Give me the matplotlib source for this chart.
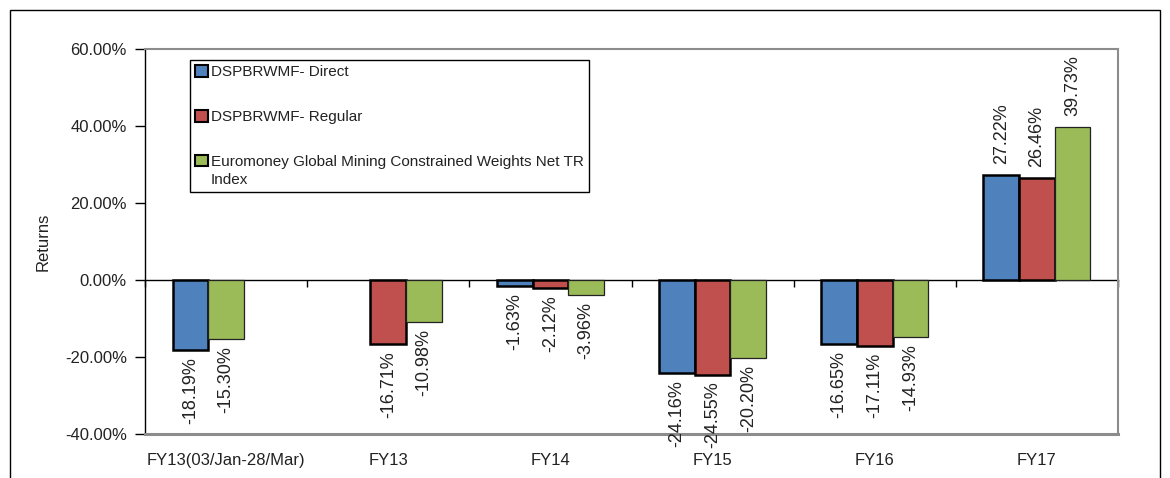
import matplotlib
matplotlib.use('Agg')
import matplotlib.pyplot as plt
from matplotlib.patches import Patch, Rectangle
from matplotlib.ticker import FuncFormatter
import numpy as np

plt.rcParams['font.family'] = ['Liberation Sans', 'DejaVu Sans']

# data (returns in %)
categories = ['FY13(03/Jan-28/Mar)', 'FY13', 'FY14', 'FY15', 'FY16', 'FY17']
direct = [-18.19, np.nan, -1.63, -24.16, -16.65, 27.22]
regular = [np.nan, -16.71, -2.12, -24.55, -17.11, 26.46]
index_ret = [-15.30, -10.98, -3.96, -20.20, -14.93, 39.73]
series_names = ['DSPBRWMF- Direct', 'DSPBRWMF- Regular',
                'Euromoney Global Mining Constrained Weights Net TR\nIndex']

colors = ['#4F81BD', '#C0504D', '#9BBB59']
txt = '#222222'

fig = plt.figure(figsize=(11.7, 4.78), dpi=100)
ax = fig.add_axes([145 / 1170, 1 - 434 / 478, 973 / 1170, 385 / 478])

x = np.arange(len(categories))
w = 0.22
# index bar moves into the empty middle slot when the regular plan has no value
index_slot = np.where(np.isnan(regular), 0, 1)

b1 = ax.bar(x - w, direct, w, color=colors[0], edgecolor='black', linewidth=1.8)
b2 = ax.bar(x, regular, w, color=colors[1], edgecolor='black', linewidth=1.8)
b3 = ax.bar(x + index_slot * w, index_ret, w, color=colors[2], edgecolor='#222222', linewidth=0.9)

for bars, vals in [(b1, direct), (b2, regular), (b3, index_ret)]:
    for rect, v in zip(bars, vals):
        if np.isnan(v):
            continue
        cx = rect.get_x() + rect.get_width() / 2
        if v < 0:
            ax.annotate('%.2f%%' % v, (cx, v), xytext=(0, -5), textcoords='offset points',
                        rotation=90, ha='center', va='top', fontsize=13, color=txt,
                        annotation_clip=False)
        else:
            ax.annotate('%.2f%%' % v, (cx, v), xytext=(0, 8), textcoords='offset points',
                        rotation=90, ha='center', va='bottom', fontsize=13, color=txt,
                        annotation_clip=False)

ax.set_xlim(-0.5, len(categories) - 0.5)
ax.set_ylim(-40, 60)
ax.set_yticks(np.arange(-40, 61, 20))
ax.yaxis.set_major_formatter(FuncFormatter(lambda v, p: '%.2f%%' % v))
ax.tick_params(axis='y', direction='out', length=7, width=1, labelsize=12, labelcolor=txt, pad=6)
ax.set_xticks(x)
ax.set_xticklabels(categories)
ax.tick_params(axis='x', length=0, labelsize=12, labelcolor=txt, pad=14)
ax.set_ylabel('Returns', fontsize=12, color=txt, labelpad=10)

ax.spines['left'].set_color('black')
ax.spines['left'].set_linewidth(1)
for s in ['top', 'right']:
    ax.spines[s].set_color('#8c8c8c')
    ax.spines[s].set_linewidth(1.5)
ax.spines['bottom'].set_color('#8c8c8c')
ax.spines['bottom'].set_linewidth(2.2)

# category axis drawn at the zero line
zero_ax = ax.secondary_xaxis(0.4)
zero_ax.set_xticks(np.arange(-0.5, len(categories), 1.0))
zero_ax.set_xticklabels([])
zero_ax.tick_params(axis='x', direction='out', length=5, width=1, color='black')
zero_ax.spines['bottom'].set_color('black')
zero_ax.spines['bottom'].set_linewidth(1)

handles = [Patch(facecolor=c, edgecolor='black', linewidth=1.5) for c in colors]
leg = ax.legend(handles, series_names, loc='upper left',
                bbox_to_anchor=((190 - 145) / 973, (434 - 60) / 385),
                fontsize=11, frameon=True, fancybox=False, framealpha=1,
                handlelength=0.8, handleheight=0.8, handletextpad=0.2,
                labelspacing=2.0, borderpad=0.35, borderaxespad=0)
leg.get_frame().set_edgecolor('black')
leg.get_frame().set_linewidth(1)
for t in leg.get_texts():
    t.set_color(txt)
    t.set_linespacing(1.35)
# keep the last marker level with the first line of its two-line label
last = leg.legend_handles[-1]
last.set_y(last.get_y() + 7.5)

fig.patches.append(Rectangle((10 / 1170, -0.1), 1150 / 1170, 468 / 478 + 0.1,
                             transform=fig.transFigure, fill=False,
                             edgecolor='black', linewidth=1))

fig.savefig('out.png', dpi=100)
